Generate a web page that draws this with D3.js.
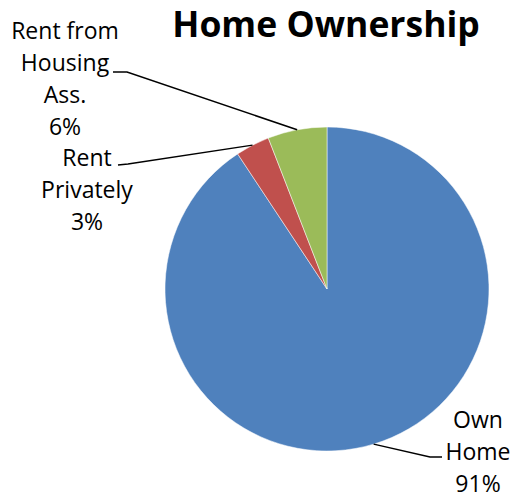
<!DOCTYPE html>
<html>
<head>
<meta charset="utf-8">
<script src="https://cdn.jsdelivr.net/npm/d3@7"></script>
<style>
  body { margin: 0; background: #fff; }
  text { font-family: "Open Sans", "DejaVu Sans", sans-serif; fill: #000; }
</style>
</head>
<body>
<svg id="chart"></svg>
<script>
// data
const categories = ["Own Home", "Rent Privately", "Rent from Housing Ass."];
const values = [90.7, 3.4, 5.9];
const labelLines = [["Own", "Home"], ["Rent", "Privately"], ["Rent from", "Housing", "Ass."]];
const colors = ["#4f81bd", "#c0504d", "#9bbb59"];

const width = 513, height = 499;
const cx = 327, cy = 289, radius = 162;

// where each label block sits (center x, first baseline y) and the leader elbow
const labelLayout = [
  {x: 478, y: 428, elbow: [430, 457], end: [442, 457]},
  {x: 87, y: 166, elbow: [128, 164], end: [118, 165]},
  {x: 65, y: 39, elbow: [127, 72], end: [113, 72]}
];
const lineHeight = 32;

const svg = d3.select("#chart")
    .attr("width", width)
    .attr("height", height);

svg.append("text")
    .attr("x", 326)
    .attr("y", 37)
    .attr("text-anchor", "middle")
    .style("font-size", "35.5px")
    .style("font-weight", "bold")
    .text("Home Ownership");

const pie = d3.pie().sort(null).value(d => d.value);
const data = categories.map((c, i) => ({name: c, value: values[i], lines: labelLines[i]}));
const arcs = pie(data);

const arc = d3.arc().innerRadius(0).outerRadius(radius);
const edge = d3.arc().innerRadius(radius).outerRadius(radius);

const g = svg.append("g").attr("transform", `translate(${cx},${cy})`);

g.selectAll("path")
    .data(arcs)
  .join("path")
    .attr("d", arc)
    .attr("fill", (d, i) => colors[i])
    .attr("stroke", "#fff")
    .attr("stroke-width", 0.5);

const total = d3.sum(values);

// leader lines + labels
arcs.forEach((d, i) => {
  const L = labelLayout[i];
  const p = edge.centroid(d);
  svg.append("polyline")
      .attr("points", [[p[0] + cx, p[1] + cy], L.elbow, L.end].map(q => q.join(",")).join(" "))
      .attr("fill", "none")
      .attr("stroke", "#000")
      .attr("stroke-width", 1.5);

  const lines = d.data.lines.concat([Math.round(d.data.value / total * 100) + "%"]);
  const t = svg.append("text")
      .attr("text-anchor", "middle")
      .style("font-size", "23px");
  lines.forEach((s, j) => {
    t.append("tspan")
        .attr("x", L.x)
        .attr("y", L.y + j * lineHeight)
        .text(s);
  });
});
</script>
</body>
</html>
